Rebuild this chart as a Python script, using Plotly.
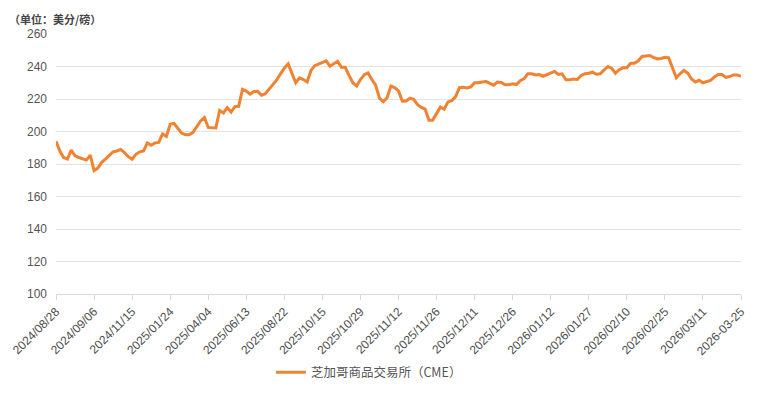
import plotly.graph_objects as go

tick_labels = ["2024/08/28", "2024/09/06", "2024/11/15", "2025/01/24", "2025/04/04",
               "2025/06/13", "2025/08/22", "2025/10/15", "2025/10/29", "2025/11/12",
               "2025/11/26", "2025/12/11", "2025/12/26", "2026/01/12", "2026/01/27",
               "2026/02/10", "2026/02/25", "2026/03/11", "2026-03-25"]

prices = [
    194, 188, 184, 183, 188.5, 185, 184, 183, 182.4, 185.5,
    176, 177.5, 181, 183, 185, 187.5, 188, 189, 187, 184.5,
    183, 186, 187.5, 188, 193, 191.5, 193, 193.3, 198.5, 197,
    204.5, 205, 202, 199, 198, 198, 199.5, 203, 206.5, 208.6,
    202.5, 202.3, 202.2, 213, 211.4, 214.7, 212, 215.3, 215.5, 225.9,
    224.9, 223, 224.6, 224.7, 222.3, 223.3, 226, 229, 231.7, 235.5,
    239, 241.6, 236, 230, 233, 232, 230.5, 237.5, 240.5, 241.5,
    242.5, 243.5, 240.2, 241.8, 243.2, 239.5, 239.5, 234.5, 230, 228,
    232, 235, 236, 232, 228.5, 220.5, 218.4, 220.8, 228, 227,
    225, 218.7, 218.8, 220.5, 219.8, 216.5, 214.8, 213.8, 207, 207,
    211, 215, 213.7, 218.2, 218.9, 221.5, 227, 227.2, 226.8, 227.5,
    230, 230, 230.5, 230.8, 229.6, 228.5, 230.4, 230.2, 228.8, 228.8,
    229.4, 228.9, 231.2, 232.5, 235.5, 235.5, 234.8, 235, 234, 235,
    235.8, 237, 235.1, 235.5, 231.8, 231.8, 232.3, 232, 234.5, 235.5,
    235.9, 236.5, 235.2, 235.5, 237.8, 240, 239, 235.8, 238, 239.2,
    239.2, 242, 242, 243.5, 246.2, 246.6, 246.8, 245.6, 244.7, 244.9,
    245.7, 245.3, 239.5, 233.1, 235.5, 237.6, 236, 232.3, 230.5, 231.5,
    230, 231, 231.5, 233.5, 235.1, 235.1, 233.3, 233.8, 234.8, 234.8,
    233.9,
]

y_ticks = [100, 120, 140, 160, 180, 200, 220, 240, 260]
series_name = "芝加哥商品交易所（CME）"
unit_text = "（单位：美分/磅）"

x_idx = list(range(len(prices)))
tick_step = 10
tick_pos = [i * tick_step for i in range(len(tick_labels))]

cjk_font = "Noto Sans CJK SC, sans-serif"
num_font = "Liberation Sans, Arial, sans-serif"

fig = go.Figure()
fig.add_trace(go.Scatter(
    x=x_idx, y=prices, mode="lines", name=series_name,
    line=dict(color="#EF8331", width=3),
    hoverinfo="y",
))

fig.update_layout(
    width=762, height=383,
    margin=dict(l=48, r=29, t=26, b=97, autoexpand=False),
    paper_bgcolor="white", plot_bgcolor="white",
    font=dict(family=cjk_font, size=11, color="#555555"),
    showlegend=True,
    legend=dict(
        orientation="h", xref="container", yref="container",
        x=0.345, y=0.048, xanchor="left", yanchor="middle",
        font=dict(size=12.5, color="#555555", family=cjk_font),
        itemwidth=30,
    ),
    xaxis=dict(
        range=[0, len(prices) - 1],
        automargin=False,
        tickmode="array", tickvals=tick_pos, ticktext=tick_labels,
        tickangle=-45,
        showgrid=False, zeroline=False,
        showline=True, linecolor="#D9D9D9", linewidth=1,
        ticks="outside", ticklen=5, tickcolor="#D9D9D9",
        tickfont=dict(size=12, color="#4d4d4d", family=num_font),
    ),
    yaxis=dict(
        range=[100, 260],
        automargin=False,
        tickmode="array", tickvals=y_ticks,
        showgrid=True, gridcolor="#E3E3E3", gridwidth=1,
        zeroline=False, showline=False,
        ticks="", ticklabelstandoff=8,
        tickfont=dict(size=12, color="#555555", family=num_font),
    ),
    annotations=[dict(
        text="<b>" + unit_text + "</b>",
        xref="paper", yref="paper",
        x=-0.072, y=1.097, xanchor="left", yanchor="top",
        showarrow=False,
        font=dict(size=11, color="#444444", family=cjk_font),
    )],
)

fig.write_html("out.html")
